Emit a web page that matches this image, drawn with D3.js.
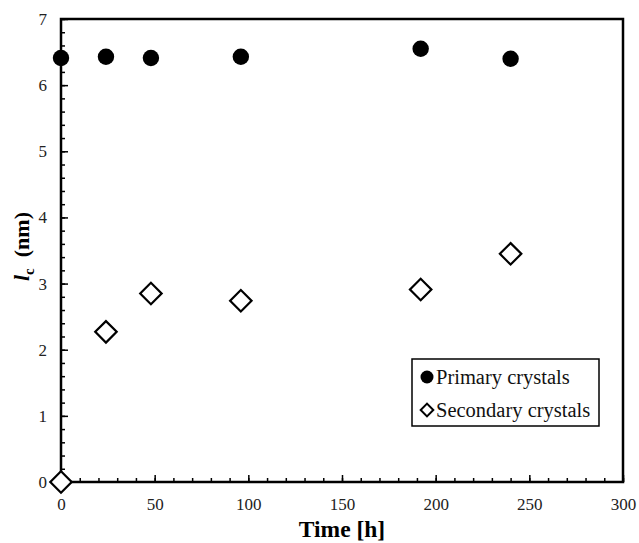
<!DOCTYPE html>
<html><head><meta charset="utf-8">
<script src="https://cdn.jsdelivr.net/npm/d3@7"></script>
<style>body{margin:0;background:#fff}svg{display:block}svg text{font-family:"Liberation Serif","Times New Roman",serif}</style>
</head><body><svg id="c" width="639" height="543"></svg>
<script>
const times = [0, 24, 48, 96, 192, 240];
const primary = [6.41, 6.43, 6.41, 6.43, 6.55, 6.40];
const secondary = [0, 2.27, 2.85, 2.74, 2.91, 3.45];
const xTicks = [0, 50, 100, 150, 200, 250, 300];
const yTicks = [0, 1, 2, 3, 4, 5, 6, 7];
const seriesNames = ["Primary crystals", "Secondary crystals"];

const FONT = "Liberation Serif, Times New Roman, serif";
const svg = d3.select("#c");
const m = {l: 61, r: 623, t: 19, b: 482};
const x = d3.scaleLinear().domain([0, 300]).range([m.l, m.r]);
const y = d3.scaleLinear().domain([0, 7]).range([m.b, m.t]);

// x axis minor + major
const xa = svg.append("g").attr("transform", `translate(0,${m.b})`);
xa.call(d3.axisBottom(x).tickValues(d3.range(0, 301, 10)).tickSize(-4).tickFormat(""))
  .call(g => g.select(".domain").remove());
xa.selectAll(".tick line").attr("stroke-width", 1.5);
const xb = svg.append("g").attr("transform", `translate(0,${m.b})`).attr("font-family", FONT);
xb.call(d3.axisBottom(x).tickValues(xTicks).tickSize(-7).tickPadding(16).tickFormat(d3.format("d")))
  .call(g => g.select(".domain").remove());
xb.attr("font-family", FONT);
xb.selectAll(".tick line").attr("stroke-width", 1.5);
xb.selectAll("text").attr("font-size", 17).attr("fill", "#222");

// y axis minor + major
const ya = svg.append("g").attr("transform", `translate(${m.l},0)`);
ya.call(d3.axisLeft(y).tickValues(d3.range(0, 7.01, 0.2)).tickSize(-4).tickFormat(""))
  .call(g => g.select(".domain").remove());
ya.selectAll(".tick line").attr("stroke-width", 1.5);
const yb = svg.append("g").attr("transform", `translate(${m.l},0)`);
yb.call(d3.axisLeft(y).tickValues(yTicks).tickSize(-7).tickPadding(14).tickFormat(d3.format("d")))
  .call(g => g.select(".domain").remove());
yb.attr("font-family", FONT);
yb.selectAll(".tick line").attr("stroke-width", 1.5);
yb.selectAll("text").attr("font-size", 17).attr("fill", "#222");

// frame
svg.append("rect").attr("x", m.l).attr("y", m.t).attr("width", m.r - m.l).attr("height", m.b - m.t)
  .attr("fill", "none").attr("stroke", "#000").attr("stroke-width", 2.5);

// axis titles
svg.append("text").attr("x", (m.l + m.r) / 2).attr("y", 537).attr("text-anchor", "middle")
  .attr("font-size", 23.5).attr("font-weight", "bold").text("Time [h]");
const yt = svg.append("text").attr("transform", `translate(29,${(m.t + m.b) / 2 - 4}) rotate(-90)`)
  .attr("text-anchor", "middle").attr("font-size", 22).attr("font-weight", "bold");
yt.append("tspan").attr("font-style", "italic").text("l");
yt.append("tspan").attr("font-size", 15).attr("dy", 5).text("c");
yt.append("tspan").attr("dy", -5).text("\u2002(nm)");

// data
const sec = times.map((t, i) => ({t, v: secondary[i]}));
const pri = times.map((t, i) => ({t, v: primary[i]}));
svg.append("g").selectAll("path").data(sec).join("path")
  .attr("transform", d => `translate(${x(d.t)},${y(d.v)}) rotate(45)`)
  .attr("d", d3.symbol().type(d3.symbolSquare).size(230))
  .attr("fill", "#fff").attr("stroke", "#000").attr("stroke-width", 2.2);
svg.append("g").selectAll("circle").data(pri).join("circle")
  .attr("cx", d => x(d.t)).attr("cy", d => y(d.v)).attr("r", 8.2).attr("fill", "#000");

// legend
const lg = svg.append("g");
lg.append("rect").attr("x", 412).attr("y", 359).attr("width", 187).attr("height", 67)
  .attr("fill", "#fff").attr("stroke", "#000").attr("stroke-width", 1.5);
lg.append("circle").attr("cx", 427).attr("cy", 377).attr("r", 6.5).attr("fill", "#000");
lg.append("path").attr("transform", "translate(427,410) rotate(45)")
  .attr("d", d3.symbol().type(d3.symbolSquare).size(80)).attr("fill", "#fff").attr("stroke", "#000").attr("stroke-width", 2);
lg.append("text").attr("x", 436).attr("y", 384).attr("font-size", 20.5).attr("fill", "#111").text(seriesNames[0]);
lg.append("text").attr("x", 436).attr("y", 417).attr("font-size", 20.5).attr("fill", "#111").text(seriesNames[1]);
</script></body></html>
